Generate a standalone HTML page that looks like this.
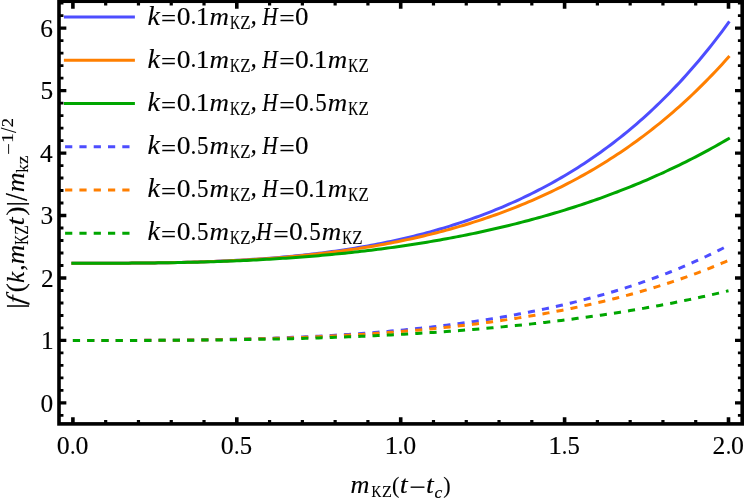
<!DOCTYPE html>
<html><head><meta charset="utf-8"><title>plot</title>
<style>html,body{margin:0;padding:0;background:#fff}svg{display:block;will-change:transform}text{font-family:"Liberation Serif",serif;font-size:24px;fill:#000;stroke:#000;stroke-width:0.12px;stroke-linejoin:round;vector-effect:non-scaling-stroke}.i{font-style:italic}.b{stroke-width:0.2px}</style></head><body>
<svg width="747" height="500" viewBox="0 0 747 500">
<rect x="0" y="0" width="747" height="500" fill="#fff"/>
<path d="M72.90 263.24 L76.18 263.24 L79.46 263.24 L82.73 263.24 L86.01 263.24 L89.29 263.24 L92.57 263.24 L95.85 263.23 L99.12 263.23 L102.40 263.22 L105.68 263.22 L108.96 263.21 L112.24 263.20 L115.51 263.19 L118.79 263.18 L122.07 263.16 L125.35 263.15 L128.63 263.13 L131.90 263.10 L135.18 263.08 L138.46 263.05 L141.74 263.02 L145.02 262.99 L148.29 262.96 L151.57 262.92 L154.85 262.88 L158.13 262.83 L161.41 262.78 L164.68 262.73 L167.96 262.67 L171.24 262.61 L174.52 262.55 L177.80 262.48 L181.07 262.40 L184.35 262.32 L187.63 262.24 L190.91 262.15 L194.19 262.06 L197.46 261.96 L200.74 261.86 L204.02 261.75 L207.30 261.63 L210.58 261.51 L213.85 261.38 L217.13 261.25 L220.41 261.11 L223.69 260.97 L226.97 260.82 L230.24 260.66 L233.52 260.49 L236.80 260.32 L240.08 260.14 L243.36 259.95 L246.63 259.76 L249.91 259.56 L253.19 259.35 L256.47 259.13 L259.75 258.90 L263.02 258.67 L266.30 258.43 L269.58 258.18 L272.86 257.92 L276.14 257.65 L279.41 257.37 L282.69 257.09 L285.97 256.79 L289.25 256.49 L292.53 256.17 L295.80 255.85 L299.08 255.51 L302.36 255.17 L305.64 254.81 L308.92 254.45 L312.19 254.07 L315.47 253.69 L318.75 253.29 L322.03 252.88 L325.31 252.46 L328.58 252.03 L331.86 251.58 L335.14 251.13 L338.42 250.66 L341.70 250.18 L344.97 249.69 L348.25 249.18 L351.53 248.67 L354.81 248.13 L358.09 247.59 L361.36 247.03 L364.64 246.46 L367.92 245.88 L371.20 245.28 L374.48 244.66 L377.75 244.03 L381.03 243.39 L384.31 242.73 L387.59 242.06 L390.87 241.37 L394.14 240.67 L397.42 239.95 L400.70 239.21 L403.98 238.46 L407.26 237.69 L410.53 236.91 L413.81 236.10 L417.09 235.28 L420.37 234.45 L423.65 233.59 L426.92 232.72 L430.20 231.83 L433.48 230.92 L436.76 229.99 L440.04 229.04 L443.31 228.07 L446.59 227.09 L449.87 226.08 L453.15 225.05 L456.43 224.01 L459.70 222.94 L462.98 221.85 L466.26 220.74 L469.54 219.60 L472.82 218.45 L476.09 217.27 L479.37 216.07 L482.65 214.85 L485.93 213.60 L489.21 212.33 L492.48 211.04 L495.76 209.72 L499.04 208.38 L502.32 207.01 L505.60 205.61 L508.87 204.19 L512.15 202.75 L515.43 201.28 L518.71 199.78 L521.99 198.25 L525.26 196.69 L528.54 195.11 L531.82 193.50 L535.10 191.86 L538.38 190.18 L541.65 188.48 L544.93 186.75 L548.21 184.99 L551.49 183.20 L554.77 181.37 L558.04 179.51 L561.32 177.62 L564.60 175.70 L567.88 173.74 L571.16 171.74 L574.43 169.72 L577.71 167.65 L580.99 165.55 L584.27 163.42 L587.55 161.25 L590.82 159.03 L594.10 156.79 L597.38 154.50 L600.66 152.17 L603.94 149.80 L607.21 147.39 L610.49 144.94 L613.77 142.45 L617.05 139.92 L620.33 137.34 L623.60 134.72 L626.88 132.05 L630.16 129.34 L633.44 126.58 L636.72 123.77 L639.99 120.92 L643.27 118.02 L646.55 115.07 L649.83 112.06 L653.11 109.01 L656.38 105.91 L659.66 102.75 L662.94 99.54 L666.22 96.28 L669.50 92.96 L672.77 89.58 L676.05 86.15 L679.33 82.66 L682.61 79.11 L685.89 75.50 L689.16 71.83 L692.44 68.09 L695.72 64.30 L699.00 60.44 L702.28 56.51 L705.55 52.52 L708.83 48.46 L712.11 44.34 L715.39 40.14 L718.67 35.87 L721.94 31.53 L725.22 27.12 L728.50 22.64" fill="none" stroke="#4d4dff" stroke-width="3" stroke-linejoin="round" stroke-linecap="square"/>
<path d="M72.90 263.24 L76.18 263.24 L79.46 263.24 L82.73 263.24 L86.01 263.24 L89.29 263.24 L92.57 263.24 L95.85 263.23 L99.12 263.23 L102.40 263.22 L105.68 263.22 L108.96 263.21 L112.24 263.20 L115.51 263.19 L118.79 263.18 L122.07 263.16 L125.35 263.15 L128.63 263.13 L131.90 263.11 L135.18 263.08 L138.46 263.06 L141.74 263.03 L145.02 263.00 L148.29 262.96 L151.57 262.93 L154.85 262.88 L158.13 262.84 L161.41 262.79 L164.68 262.74 L167.96 262.69 L171.24 262.63 L174.52 262.56 L177.80 262.50 L181.07 262.43 L184.35 262.35 L187.63 262.27 L190.91 262.19 L194.19 262.10 L197.46 262.00 L200.74 261.90 L204.02 261.80 L207.30 261.69 L210.58 261.57 L213.85 261.45 L217.13 261.32 L220.41 261.19 L223.69 261.05 L226.97 260.91 L230.24 260.76 L233.52 260.60 L236.80 260.44 L240.08 260.27 L243.36 260.09 L246.63 259.90 L249.91 259.71 L253.19 259.52 L256.47 259.31 L259.75 259.10 L263.02 258.88 L266.30 258.65 L269.58 258.42 L272.86 258.17 L276.14 257.92 L279.41 257.66 L282.69 257.39 L285.97 257.12 L289.25 256.83 L292.53 256.54 L295.80 256.23 L299.08 255.92 L302.36 255.60 L305.64 255.27 L308.92 254.93 L312.19 254.58 L315.47 254.23 L318.75 253.86 L322.03 253.48 L325.31 253.09 L328.58 252.69 L331.86 252.28 L335.14 251.86 L338.42 251.43 L341.70 250.99 L344.97 250.54 L348.25 250.07 L351.53 249.60 L354.81 249.11 L358.09 248.61 L361.36 248.10 L364.64 247.58 L367.92 247.04 L371.20 246.50 L374.48 245.94 L377.75 245.36 L381.03 244.78 L384.31 244.18 L387.59 243.57 L390.87 242.95 L394.14 242.31 L397.42 241.66 L400.70 240.99 L403.98 240.31 L407.26 239.62 L410.53 238.91 L413.81 238.18 L417.09 237.45 L420.37 236.69 L423.65 235.92 L426.92 235.14 L430.20 234.34 L433.48 233.52 L436.76 232.69 L440.04 231.85 L443.31 230.98 L446.59 230.10 L449.87 229.20 L453.15 228.29 L456.43 227.36 L459.70 226.41 L462.98 225.44 L466.26 224.45 L469.54 223.45 L472.82 222.42 L476.09 221.38 L479.37 220.32 L482.65 219.24 L485.93 218.14 L489.21 217.02 L492.48 215.88 L495.76 214.72 L499.04 213.54 L502.32 212.34 L505.60 211.12 L508.87 209.87 L512.15 208.61 L515.43 207.32 L518.71 206.01 L521.99 204.67 L525.26 203.32 L528.54 201.94 L531.82 200.54 L535.10 199.11 L538.38 197.66 L541.65 196.18 L544.93 194.68 L548.21 193.15 L551.49 191.60 L554.77 190.02 L558.04 188.42 L561.32 186.79 L564.60 185.13 L567.88 183.44 L571.16 181.73 L574.43 179.99 L577.71 178.22 L580.99 176.42 L584.27 174.59 L587.55 172.73 L590.82 170.84 L594.10 168.92 L597.38 166.97 L600.66 164.98 L603.94 162.97 L607.21 160.92 L610.49 158.84 L613.77 156.72 L617.05 154.57 L620.33 152.39 L623.60 150.17 L626.88 147.92 L630.16 145.63 L633.44 143.30 L636.72 140.94 L639.99 138.54 L643.27 136.10 L646.55 133.62 L649.83 131.10 L653.11 128.54 L656.38 125.94 L659.66 123.30 L662.94 120.62 L666.22 117.89 L669.50 115.13 L672.77 112.31 L676.05 109.46 L679.33 106.56 L682.61 103.61 L685.89 100.61 L689.16 97.57 L692.44 94.48 L695.72 91.35 L699.00 88.16 L702.28 84.92 L705.55 81.63 L708.83 78.29 L712.11 74.90 L715.39 71.45 L718.67 67.95 L721.94 64.39 L725.22 60.78 L728.50 57.11" fill="none" stroke="#ff7f00" stroke-width="3" stroke-linejoin="round" stroke-linecap="square"/>
<path d="M72.90 263.24 L76.18 263.24 L79.46 263.24 L82.73 263.24 L86.01 263.24 L89.29 263.24 L92.57 263.24 L95.85 263.23 L99.12 263.23 L102.40 263.22 L105.68 263.22 L108.96 263.21 L112.24 263.20 L115.51 263.19 L118.79 263.18 L122.07 263.17 L125.35 263.15 L128.63 263.13 L131.90 263.12 L135.18 263.09 L138.46 263.07 L141.74 263.04 L145.02 263.02 L148.29 262.98 L151.57 262.95 L154.85 262.91 L158.13 262.87 L161.41 262.83 L164.68 262.79 L167.96 262.74 L171.24 262.68 L174.52 262.63 L177.80 262.57 L181.07 262.51 L184.35 262.44 L187.63 262.37 L190.91 262.30 L194.19 262.22 L197.46 262.14 L200.74 262.05 L204.02 261.96 L207.30 261.87 L210.58 261.77 L213.85 261.67 L217.13 261.56 L220.41 261.45 L223.69 261.34 L226.97 261.22 L230.24 261.09 L233.52 260.96 L236.80 260.82 L240.08 260.68 L243.36 260.54 L246.63 260.39 L249.91 260.23 L253.19 260.07 L256.47 259.91 L259.75 259.73 L263.02 259.56 L266.30 259.37 L269.58 259.19 L272.86 258.99 L276.14 258.79 L279.41 258.59 L282.69 258.37 L285.97 258.16 L289.25 257.93 L292.53 257.70 L295.80 257.47 L299.08 257.23 L302.36 256.98 L305.64 256.72 L308.92 256.46 L312.19 256.19 L315.47 255.92 L318.75 255.64 L322.03 255.35 L325.31 255.06 L328.58 254.75 L331.86 254.45 L335.14 254.13 L338.42 253.81 L341.70 253.48 L344.97 253.14 L348.25 252.80 L351.53 252.45 L354.81 252.09 L358.09 251.72 L361.36 251.35 L364.64 250.97 L367.92 250.58 L371.20 250.18 L374.48 249.78 L377.75 249.36 L381.03 248.94 L384.31 248.51 L387.59 248.08 L390.87 247.63 L394.14 247.18 L397.42 246.72 L400.70 246.25 L403.98 245.77 L407.26 245.28 L410.53 244.79 L413.81 244.28 L417.09 243.77 L420.37 243.25 L423.65 242.71 L426.92 242.17 L430.20 241.62 L433.48 241.07 L436.76 240.50 L440.04 239.92 L443.31 239.33 L446.59 238.74 L449.87 238.13 L453.15 237.52 L456.43 236.89 L459.70 236.25 L462.98 235.61 L466.26 234.95 L469.54 234.29 L472.82 233.61 L476.09 232.92 L479.37 232.23 L482.65 231.52 L485.93 230.80 L489.21 230.07 L492.48 229.33 L495.76 228.58 L499.04 227.82 L502.32 227.05 L505.60 226.26 L508.87 225.47 L512.15 224.66 L515.43 223.84 L518.71 223.01 L521.99 222.17 L525.26 221.31 L528.54 220.44 L531.82 219.56 L535.10 218.67 L538.38 217.77 L541.65 216.85 L544.93 215.92 L548.21 214.98 L551.49 214.03 L554.77 213.06 L558.04 212.08 L561.32 211.08 L564.60 210.07 L567.88 209.05 L571.16 208.01 L574.43 206.96 L577.71 205.90 L580.99 204.82 L584.27 203.73 L587.55 202.62 L590.82 201.50 L594.10 200.36 L597.38 199.21 L600.66 198.05 L603.94 196.86 L607.21 195.67 L610.49 194.45 L613.77 193.22 L617.05 191.98 L620.33 190.72 L623.60 189.44 L626.88 188.15 L630.16 186.83 L633.44 185.51 L636.72 184.16 L639.99 182.80 L643.27 181.42 L646.55 180.02 L649.83 178.61 L653.11 177.17 L656.38 175.72 L659.66 174.25 L662.94 172.76 L666.22 171.26 L669.50 169.73 L672.77 168.18 L676.05 166.62 L679.33 165.03 L682.61 163.43 L685.89 161.80 L689.16 160.15 L692.44 158.49 L695.72 156.80 L699.00 155.09 L702.28 153.36 L705.55 151.60 L708.83 149.83 L712.11 148.03 L715.39 146.21 L718.67 144.37 L721.94 142.50 L725.22 140.62 L728.50 138.70" fill="none" stroke="#00a600" stroke-width="3" stroke-linejoin="round" stroke-linecap="square"/>
<path d="M72.90 340.47 L76.18 340.47 L79.46 340.47 L82.73 340.47 L86.01 340.47 L89.29 340.47 L92.57 340.47 L95.85 340.47 L99.12 340.46 L102.40 340.46 L105.68 340.46 L108.96 340.46 L112.24 340.45 L115.51 340.45 L118.79 340.44 L122.07 340.43 L125.35 340.43 L128.63 340.42 L131.90 340.41 L135.18 340.40 L138.46 340.39 L141.74 340.37 L145.02 340.36 L148.29 340.34 L151.57 340.33 L154.85 340.31 L158.13 340.29 L161.41 340.27 L164.68 340.24 L167.96 340.22 L171.24 340.19 L174.52 340.16 L177.80 340.13 L181.07 340.10 L184.35 340.06 L187.63 340.03 L190.91 339.99 L194.19 339.95 L197.46 339.90 L200.74 339.86 L204.02 339.81 L207.30 339.76 L210.58 339.70 L213.85 339.65 L217.13 339.59 L220.41 339.53 L223.69 339.46 L226.97 339.40 L230.24 339.33 L233.52 339.25 L236.80 339.18 L240.08 339.10 L243.36 339.02 L246.63 338.93 L249.91 338.85 L253.19 338.75 L256.47 338.66 L259.75 338.56 L263.02 338.46 L266.30 338.35 L269.58 338.24 L272.86 338.13 L276.14 338.02 L279.41 337.89 L282.69 337.77 L285.97 337.64 L289.25 337.51 L292.53 337.37 L295.80 337.23 L299.08 337.09 L302.36 336.94 L305.64 336.79 L308.92 336.63 L312.19 336.47 L315.47 336.30 L318.75 336.13 L322.03 335.96 L325.31 335.78 L328.58 335.59 L331.86 335.40 L335.14 335.21 L338.42 335.01 L341.70 334.81 L344.97 334.60 L348.25 334.38 L351.53 334.16 L354.81 333.94 L358.09 333.71 L361.36 333.47 L364.64 333.23 L367.92 332.98 L371.20 332.73 L374.48 332.47 L377.75 332.21 L381.03 331.94 L384.31 331.66 L387.59 331.38 L390.87 331.09 L394.14 330.80 L397.42 330.50 L400.70 330.19 L403.98 329.88 L407.26 329.56 L410.53 329.23 L413.81 328.90 L417.09 328.55 L420.37 328.21 L423.65 327.85 L426.92 327.49 L430.20 327.12 L433.48 326.75 L436.76 326.37 L440.04 325.98 L443.31 325.58 L446.59 325.17 L449.87 324.76 L453.15 324.34 L456.43 323.91 L459.70 323.47 L462.98 323.03 L466.26 322.57 L469.54 322.11 L472.82 321.64 L476.09 321.16 L479.37 320.68 L482.65 320.18 L485.93 319.67 L489.21 319.16 L492.48 318.64 L495.76 318.10 L499.04 317.56 L502.32 317.01 L505.60 316.45 L508.87 315.88 L512.15 315.30 L515.43 314.70 L518.71 314.10 L521.99 313.49 L525.26 312.87 L528.54 312.23 L531.82 311.59 L535.10 310.93 L538.38 310.27 L541.65 309.59 L544.93 308.90 L548.21 308.20 L551.49 307.49 L554.77 306.76 L558.04 306.02 L561.32 305.28 L564.60 304.51 L567.88 303.74 L571.16 302.95 L574.43 302.15 L577.71 301.34 L580.99 300.51 L584.27 299.67 L587.55 298.81 L590.82 297.95 L594.10 297.06 L597.38 296.17 L600.66 295.25 L603.94 294.33 L607.21 293.38 L610.49 292.43 L613.77 291.45 L617.05 290.46 L620.33 289.46 L623.60 288.43 L626.88 287.40 L630.16 286.34 L633.44 285.27 L636.72 284.18 L639.99 283.07 L643.27 281.94 L646.55 280.80 L649.83 279.64 L653.11 278.46 L656.38 277.26 L659.66 276.04 L662.94 274.80 L666.22 273.54 L669.50 272.26 L672.77 270.96 L676.05 269.64 L679.33 268.29 L682.61 266.93 L685.89 265.54 L689.16 264.13 L692.44 262.70 L695.72 261.24 L699.00 259.77 L702.28 258.26 L705.55 256.74 L708.83 255.18 L712.11 253.61 L715.39 252.01 L718.67 250.38 L721.94 248.72 L725.22 247.04 L728.50 245.33" fill="none" stroke="#4d4dff" stroke-width="3" stroke-linejoin="round" stroke-dasharray="7.135 7.135"/>
<path d="M72.90 340.47 L76.18 340.47 L79.46 340.47 L82.73 340.47 L86.01 340.47 L89.29 340.47 L92.57 340.47 L95.85 340.47 L99.12 340.47 L102.40 340.46 L105.68 340.46 L108.96 340.46 L112.24 340.45 L115.51 340.45 L118.79 340.44 L122.07 340.44 L125.35 340.43 L128.63 340.42 L131.90 340.42 L135.18 340.41 L138.46 340.40 L141.74 340.38 L145.02 340.37 L148.29 340.36 L151.57 340.34 L154.85 340.33 L158.13 340.31 L161.41 340.29 L164.68 340.27 L167.96 340.25 L171.24 340.22 L174.52 340.20 L177.80 340.17 L181.07 340.14 L184.35 340.11 L187.63 340.08 L190.91 340.04 L194.19 340.01 L197.46 339.97 L200.74 339.93 L204.02 339.89 L207.30 339.84 L210.58 339.79 L213.85 339.75 L217.13 339.69 L220.41 339.64 L223.69 339.58 L226.97 339.53 L230.24 339.47 L233.52 339.40 L236.80 339.34 L240.08 339.27 L243.36 339.20 L246.63 339.12 L249.91 339.05 L253.19 338.97 L256.47 338.88 L259.75 338.80 L263.02 338.71 L266.30 338.62 L269.58 338.52 L272.86 338.43 L276.14 338.32 L279.41 338.22 L282.69 338.11 L285.97 338.00 L289.25 337.89 L292.53 337.77 L295.80 337.65 L299.08 337.52 L302.36 337.40 L305.64 337.26 L308.92 337.13 L312.19 336.99 L315.47 336.85 L318.75 336.70 L322.03 336.55 L325.31 336.39 L328.58 336.23 L331.86 336.07 L335.14 335.90 L338.42 335.73 L341.70 335.56 L344.97 335.37 L348.25 335.19 L351.53 335.00 L354.81 334.81 L358.09 334.61 L361.36 334.41 L364.64 334.20 L367.92 333.99 L371.20 333.77 L374.48 333.55 L377.75 333.32 L381.03 333.09 L384.31 332.85 L387.59 332.61 L390.87 332.36 L394.14 332.11 L397.42 331.86 L400.70 331.59 L403.98 331.32 L407.26 331.05 L410.53 330.77 L413.81 330.48 L417.09 330.19 L420.37 329.90 L423.65 329.59 L426.92 329.29 L430.20 328.97 L433.48 328.65 L436.76 328.32 L440.04 327.99 L443.31 327.65 L446.59 327.30 L449.87 326.95 L453.15 326.59 L456.43 326.23 L459.70 325.85 L462.98 325.48 L466.26 325.09 L469.54 324.70 L472.82 324.30 L476.09 323.89 L479.37 323.47 L482.65 323.05 L485.93 322.62 L489.21 322.18 L492.48 321.74 L495.76 321.28 L499.04 320.82 L502.32 320.35 L505.60 319.88 L508.87 319.39 L512.15 318.90 L515.43 318.40 L518.71 317.88 L521.99 317.37 L525.26 316.84 L528.54 316.30 L531.82 315.75 L535.10 315.20 L538.38 314.63 L541.65 314.06 L544.93 313.48 L548.21 312.88 L551.49 312.28 L554.77 311.67 L558.04 311.04 L561.32 310.41 L564.60 309.77 L567.88 309.11 L571.16 308.45 L574.43 307.77 L577.71 307.09 L580.99 306.39 L584.27 305.68 L587.55 304.96 L590.82 304.23 L594.10 303.49 L597.38 302.73 L600.66 301.96 L603.94 301.18 L607.21 300.39 L610.49 299.59 L613.77 298.77 L617.05 297.94 L620.33 297.09 L623.60 296.24 L626.88 295.37 L630.16 294.48 L633.44 293.58 L636.72 292.67 L639.99 291.74 L643.27 290.80 L646.55 289.85 L649.83 288.88 L653.11 287.89 L656.38 286.89 L659.66 285.87 L662.94 284.84 L666.22 283.79 L669.50 282.72 L672.77 281.64 L676.05 280.54 L679.33 279.42 L682.61 278.29 L685.89 277.14 L689.16 275.97 L692.44 274.78 L695.72 273.57 L699.00 272.35 L702.28 271.10 L705.55 269.84 L708.83 268.56 L712.11 267.25 L715.39 265.93 L718.67 264.59 L721.94 263.22 L725.22 261.84 L728.50 260.43" fill="none" stroke="#ff7f00" stroke-width="3" stroke-linejoin="round" stroke-dasharray="7.135 7.135"/>
<path d="M72.90 340.47 L76.18 340.47 L79.46 340.47 L82.73 340.47 L86.01 340.47 L89.29 340.47 L92.57 340.47 L95.85 340.47 L99.12 340.47 L102.40 340.47 L105.68 340.46 L108.96 340.46 L112.24 340.46 L115.51 340.46 L118.79 340.45 L122.07 340.45 L125.35 340.45 L128.63 340.44 L131.90 340.44 L135.18 340.43 L138.46 340.42 L141.74 340.42 L145.02 340.41 L148.29 340.40 L151.57 340.39 L154.85 340.38 L158.13 340.37 L161.41 340.36 L164.68 340.34 L167.96 340.33 L171.24 340.31 L174.52 340.30 L177.80 340.28 L181.07 340.26 L184.35 340.24 L187.63 340.22 L190.91 340.19 L194.19 340.17 L197.46 340.14 L200.74 340.12 L204.02 340.09 L207.30 340.06 L210.58 340.03 L213.85 339.99 L217.13 339.96 L220.41 339.92 L223.69 339.89 L226.97 339.85 L230.24 339.81 L233.52 339.76 L236.80 339.72 L240.08 339.67 L243.36 339.62 L246.63 339.57 L249.91 339.52 L253.19 339.46 L256.47 339.41 L259.75 339.35 L263.02 339.29 L266.30 339.23 L269.58 339.16 L272.86 339.09 L276.14 339.02 L279.41 338.95 L282.69 338.88 L285.97 338.80 L289.25 338.72 L292.53 338.64 L295.80 338.56 L299.08 338.47 L302.36 338.38 L305.64 338.29 L308.92 338.20 L312.19 338.10 L315.47 338.00 L318.75 337.90 L322.03 337.80 L325.31 337.69 L328.58 337.58 L331.86 337.47 L335.14 337.35 L338.42 337.23 L341.70 337.11 L344.97 336.99 L348.25 336.86 L351.53 336.73 L354.81 336.60 L358.09 336.46 L361.36 336.32 L364.64 336.18 L367.92 336.03 L371.20 335.88 L374.48 335.73 L377.75 335.58 L381.03 335.42 L384.31 335.26 L387.59 335.09 L390.87 334.92 L394.14 334.75 L397.42 334.57 L400.70 334.39 L403.98 334.21 L407.26 334.02 L410.53 333.83 L413.81 333.64 L417.09 333.44 L420.37 333.24 L423.65 333.03 L426.92 332.83 L430.20 332.61 L433.48 332.40 L436.76 332.18 L440.04 331.95 L443.31 331.72 L446.59 331.49 L449.87 331.25 L453.15 331.01 L456.43 330.77 L459.70 330.52 L462.98 330.26 L466.26 330.00 L469.54 329.74 L472.82 329.48 L476.09 329.21 L479.37 328.93 L482.65 328.65 L485.93 328.37 L489.21 328.08 L492.48 327.78 L495.76 327.48 L499.04 327.18 L502.32 326.87 L505.60 326.56 L508.87 326.24 L512.15 325.92 L515.43 325.59 L518.71 325.26 L521.99 324.92 L525.26 324.58 L528.54 324.23 L531.82 323.88 L535.10 323.52 L538.38 323.16 L541.65 322.79 L544.93 322.41 L548.21 322.03 L551.49 321.65 L554.77 321.26 L558.04 320.86 L561.32 320.46 L564.60 320.05 L567.88 319.64 L571.16 319.22 L574.43 318.79 L577.71 318.36 L580.99 317.92 L584.27 317.48 L587.55 317.03 L590.82 316.57 L594.10 316.11 L597.38 315.64 L600.66 315.17 L603.94 314.68 L607.21 314.19 L610.49 313.70 L613.77 313.20 L617.05 312.69 L620.33 312.17 L623.60 311.65 L626.88 311.12 L630.16 310.58 L633.44 310.04 L636.72 309.49 L639.99 308.93 L643.27 308.37 L646.55 307.79 L649.83 307.21 L653.11 306.62 L656.38 306.03 L659.66 305.42 L662.94 304.81 L666.22 304.19 L669.50 303.56 L672.77 302.92 L676.05 302.28 L679.33 301.63 L682.61 300.97 L685.89 300.29 L689.16 299.62 L692.44 298.93 L695.72 298.23 L699.00 297.53 L702.28 296.81 L705.55 296.09 L708.83 295.35 L712.11 294.61 L715.39 293.86 L718.67 293.10 L721.94 292.33 L725.22 291.54 L728.50 290.75" fill="none" stroke="#00a600" stroke-width="3" stroke-linejoin="round" stroke-dasharray="7.135 7.135"/>
<rect x="59" y="1.25" width="683.2" height="422.65" fill="none" stroke="#000" stroke-width="3.6"/>
<g stroke="#000" fill="none"><path d="M72.90 423.90 V417.15 M72.90 1.25 V8.70" stroke-width="3.6"/><path d="M105.68 423.90 V420.10 M105.68 1.25 V5.60" stroke-width="3.2"/><path d="M138.46 423.90 V420.10 M138.46 1.25 V5.60" stroke-width="3.2"/><path d="M171.24 423.90 V420.10 M171.24 1.25 V5.60" stroke-width="3.2"/><path d="M204.02 423.90 V420.10 M204.02 1.25 V5.60" stroke-width="3.2"/><path d="M236.80 423.90 V417.15 M236.80 1.25 V8.70" stroke-width="3.6"/><path d="M269.58 423.90 V420.10 M269.58 1.25 V5.60" stroke-width="3.2"/><path d="M302.36 423.90 V420.10 M302.36 1.25 V5.60" stroke-width="3.2"/><path d="M335.14 423.90 V420.10 M335.14 1.25 V5.60" stroke-width="3.2"/><path d="M367.92 423.90 V420.10 M367.92 1.25 V5.60" stroke-width="3.2"/><path d="M400.70 423.90 V417.15 M400.70 1.25 V8.70" stroke-width="3.6"/><path d="M433.48 423.90 V420.10 M433.48 1.25 V5.60" stroke-width="3.2"/><path d="M466.26 423.90 V420.10 M466.26 1.25 V5.60" stroke-width="3.2"/><path d="M499.04 423.90 V420.10 M499.04 1.25 V5.60" stroke-width="3.2"/><path d="M531.82 423.90 V420.10 M531.82 1.25 V5.60" stroke-width="3.2"/><path d="M564.60 423.90 V417.15 M564.60 1.25 V8.70" stroke-width="3.6"/><path d="M597.38 423.90 V420.10 M597.38 1.25 V5.60" stroke-width="3.2"/><path d="M630.16 423.90 V420.10 M630.16 1.25 V5.60" stroke-width="3.2"/><path d="M662.94 423.90 V420.10 M662.94 1.25 V5.60" stroke-width="3.2"/><path d="M695.72 423.90 V420.10 M695.72 1.25 V5.60" stroke-width="3.2"/><path d="M728.50 423.90 V417.15 M728.50 1.25 V8.70" stroke-width="3.6"/><path d="M59.00 415.45 H63.45 M742.20 415.45 H737.90" stroke-width="2.8"/><path d="M59.00 402.95 H66.35 M742.20 402.95 H735.00" stroke-width="3.3"/><path d="M59.00 390.45 H63.45 M742.20 390.45 H737.90" stroke-width="2.8"/><path d="M59.00 377.96 H63.45 M742.20 377.96 H737.90" stroke-width="2.8"/><path d="M59.00 365.46 H63.45 M742.20 365.46 H737.90" stroke-width="2.8"/><path d="M59.00 352.97 H63.45 M742.20 352.97 H737.90" stroke-width="2.8"/><path d="M59.00 340.47 H66.35 M742.20 340.47 H735.00" stroke-width="3.3"/><path d="M59.00 327.97 H63.45 M742.20 327.97 H737.90" stroke-width="2.8"/><path d="M59.00 315.48 H63.45 M742.20 315.48 H737.90" stroke-width="2.8"/><path d="M59.00 302.98 H63.45 M742.20 302.98 H737.90" stroke-width="2.8"/><path d="M59.00 290.49 H63.45 M742.20 290.49 H737.90" stroke-width="2.8"/><path d="M59.00 277.99 H66.35 M742.20 277.99 H735.00" stroke-width="3.3"/><path d="M59.00 265.49 H63.45 M742.20 265.49 H737.90" stroke-width="2.8"/><path d="M59.00 253.00 H63.45 M742.20 253.00 H737.90" stroke-width="2.8"/><path d="M59.00 240.50 H63.45 M742.20 240.50 H737.90" stroke-width="2.8"/><path d="M59.00 228.01 H63.45 M742.20 228.01 H737.90" stroke-width="2.8"/><path d="M59.00 215.51 H66.35 M742.20 215.51 H735.00" stroke-width="3.3"/><path d="M59.00 203.01 H63.45 M742.20 203.01 H737.90" stroke-width="2.8"/><path d="M59.00 190.52 H63.45 M742.20 190.52 H737.90" stroke-width="2.8"/><path d="M59.00 178.02 H63.45 M742.20 178.02 H737.90" stroke-width="2.8"/><path d="M59.00 165.53 H63.45 M742.20 165.53 H737.90" stroke-width="2.8"/><path d="M59.00 153.03 H66.35 M742.20 153.03 H735.00" stroke-width="3.3"/><path d="M59.00 140.53 H63.45 M742.20 140.53 H737.90" stroke-width="2.8"/><path d="M59.00 128.04 H63.45 M742.20 128.04 H737.90" stroke-width="2.8"/><path d="M59.00 115.54 H63.45 M742.20 115.54 H737.90" stroke-width="2.8"/><path d="M59.00 103.05 H63.45 M742.20 103.05 H737.90" stroke-width="2.8"/><path d="M59.00 90.55 H66.35 M742.20 90.55 H735.00" stroke-width="3.3"/><path d="M59.00 78.05 H63.45 M742.20 78.05 H737.90" stroke-width="2.8"/><path d="M59.00 65.56 H63.45 M742.20 65.56 H737.90" stroke-width="2.8"/><path d="M59.00 53.06 H63.45 M742.20 53.06 H737.90" stroke-width="2.8"/><path d="M59.00 40.57 H63.45 M742.20 40.57 H737.90" stroke-width="2.8"/><path d="M59.00 28.07 H66.35 M742.20 28.07 H735.00" stroke-width="3.3"/><path d="M59.00 15.57 H63.45 M742.20 15.57 H737.90" stroke-width="2.8"/><path d="M59.00 3.08 H63.45 M742.20 3.08 H737.90" stroke-width="2.8"/></g>
<path d="M63.9 17.10 H134.9" stroke="#4d4dff" stroke-width="3" fill="none"/>
<path d="M63.9 60.32 H134.9" stroke="#ff7f00" stroke-width="3" fill="none"/>
<path d="M63.9 103.54 H134.9" stroke="#00a600" stroke-width="3" fill="none"/>
<path d="M65.1 146.76 H134.9" stroke="#4d4dff" stroke-width="3" stroke-dasharray="7.2 7.1" fill="none"/>
<path d="M65.1 189.98 H134.9" stroke="#ff7f00" stroke-width="3" stroke-dasharray="7.2 7.1" fill="none"/>
<path d="M65.1 233.20 H134.9" stroke="#00a600" stroke-width="3" stroke-dasharray="7.2 7.1" fill="none"/>
<text class="i" transform="matrix(1.1617 0 0 1.1013 147.46 24.50)">k</text>
<text class="b" transform="matrix(1.1175 0 0 1.0300 161.12 27.30)">=</text>
<text transform="matrix(1.1483 0 0 1.0363 176.81 24.50)">0</text>
<text transform="matrix(0.9803 0 0 1.0332 190.41 24.24)">.</text>
<text transform="matrix(1.1457 0 0 1.0408 195.64 24.50)">1</text>
<text class="i" transform="matrix(1.1244 0 0 1.0735 209.58 24.50)">m</text>
<text transform="matrix(0.5782 0 0 0.7598 230.06 28.60)">K</text>
<text transform="matrix(0.7033 0 0 0.7598 240.25 28.60)">Z</text>
<text class="i" transform="matrix(1.0511 0 0 1.1161 250.42 23.62)">,</text>
<text class="i" transform="matrix(0.8882 0 0 1.0780 262.29 24.50)">H</text>
<text class="b" transform="matrix(1.1443 0 0 1.0300 279.29 27.30)">=</text>
<text transform="matrix(1.1286 0 0 1.0363 295.03 24.50)">0</text>
<text class="i" transform="matrix(1.1617 0 0 1.1013 147.46 67.65)">k</text>
<text class="b" transform="matrix(1.1175 0 0 1.0300 161.12 70.45)">=</text>
<text transform="matrix(1.1483 0 0 1.0363 176.81 67.65)">0</text>
<text transform="matrix(0.9803 0 0 1.0332 190.41 67.39)">.</text>
<text transform="matrix(1.1457 0 0 1.0408 195.64 67.65)">1</text>
<text class="i" transform="matrix(1.1244 0 0 1.0735 209.58 67.65)">m</text>
<text transform="matrix(0.5782 0 0 0.7598 230.06 71.75)">K</text>
<text transform="matrix(0.7033 0 0 0.7598 240.25 71.75)">Z</text>
<text class="i" transform="matrix(1.0511 0 0 1.1161 250.42 66.77)">,</text>
<text class="i" transform="matrix(0.8882 0 0 1.0780 262.29 67.65)">H</text>
<text class="b" transform="matrix(1.1443 0 0 1.0300 279.29 70.45)">=</text>
<text transform="matrix(1.1483 0 0 1.0363 295.01 67.65)">0</text>
<text transform="matrix(0.9803 0 0 1.0332 308.61 67.39)">.</text>
<text transform="matrix(1.1457 0 0 1.0408 313.84 67.65)">1</text>
<text class="i" transform="matrix(1.1244 0 0 1.0735 327.78 67.65)">m</text>
<text transform="matrix(0.5782 0 0 0.7598 348.26 71.75)">K</text>
<text transform="matrix(0.7033 0 0 0.7598 358.45 71.75)">Z</text>
<text class="i" transform="matrix(1.1617 0 0 1.1013 147.46 110.80)">k</text>
<text class="b" transform="matrix(1.1175 0 0 1.0300 161.12 113.60)">=</text>
<text transform="matrix(1.1483 0 0 1.0363 176.81 110.80)">0</text>
<text transform="matrix(0.9803 0 0 1.0332 190.41 110.54)">.</text>
<text transform="matrix(1.1457 0 0 1.0408 195.64 110.80)">1</text>
<text class="i" transform="matrix(1.1244 0 0 1.0735 209.58 110.80)">m</text>
<text transform="matrix(0.5782 0 0 0.7598 230.06 114.90)">K</text>
<text transform="matrix(0.7033 0 0 0.7598 240.25 114.90)">Z</text>
<text class="i" transform="matrix(1.0511 0 0 1.1161 250.42 109.92)">,</text>
<text class="i" transform="matrix(0.8882 0 0 1.0780 262.29 110.80)">H</text>
<text class="b" transform="matrix(1.1443 0 0 1.0300 279.29 113.60)">=</text>
<text transform="matrix(1.1483 0 0 1.0363 295.01 110.80)">0</text>
<text transform="matrix(0.9803 0 0 1.0332 308.61 110.54)">.</text>
<text transform="matrix(0.9599 0 0 1.0398 315.32 110.80)">5</text>
<text class="i" transform="matrix(1.1244 0 0 1.0735 327.78 110.80)">m</text>
<text transform="matrix(0.5782 0 0 0.7598 348.26 114.90)">K</text>
<text transform="matrix(0.7033 0 0 0.7598 358.45 114.90)">Z</text>
<text class="i" transform="matrix(1.1617 0 0 1.1013 147.46 153.95)">k</text>
<text class="b" transform="matrix(1.1175 0 0 1.0300 161.12 156.75)">=</text>
<text transform="matrix(1.1483 0 0 1.0363 176.81 153.95)">0</text>
<text transform="matrix(0.9803 0 0 1.0332 190.41 153.69)">.</text>
<text transform="matrix(0.9599 0 0 1.0398 197.12 153.95)">5</text>
<text class="i" transform="matrix(1.1244 0 0 1.0735 209.58 153.95)">m</text>
<text transform="matrix(0.5782 0 0 0.7598 230.06 158.05)">K</text>
<text transform="matrix(0.7033 0 0 0.7598 240.25 158.05)">Z</text>
<text class="i" transform="matrix(1.0511 0 0 1.1161 250.42 153.07)">,</text>
<text class="i" transform="matrix(0.8882 0 0 1.0780 262.29 153.95)">H</text>
<text class="b" transform="matrix(1.1443 0 0 1.0300 279.29 156.75)">=</text>
<text transform="matrix(1.1286 0 0 1.0363 295.03 153.95)">0</text>
<text class="i" transform="matrix(1.1617 0 0 1.1013 147.46 197.10)">k</text>
<text class="b" transform="matrix(1.1175 0 0 1.0300 161.12 199.90)">=</text>
<text transform="matrix(1.1483 0 0 1.0363 176.81 197.10)">0</text>
<text transform="matrix(0.9803 0 0 1.0332 190.41 196.84)">.</text>
<text transform="matrix(0.9599 0 0 1.0398 197.12 197.10)">5</text>
<text class="i" transform="matrix(1.1244 0 0 1.0735 209.58 197.10)">m</text>
<text transform="matrix(0.5782 0 0 0.7598 230.06 201.20)">K</text>
<text transform="matrix(0.7033 0 0 0.7598 240.25 201.20)">Z</text>
<text class="i" transform="matrix(1.0511 0 0 1.1161 250.42 196.22)">,</text>
<text class="i" transform="matrix(0.8882 0 0 1.0780 262.29 197.10)">H</text>
<text class="b" transform="matrix(1.1443 0 0 1.0300 279.29 199.90)">=</text>
<text transform="matrix(1.1483 0 0 1.0363 295.01 197.10)">0</text>
<text transform="matrix(0.9803 0 0 1.0332 308.61 196.84)">.</text>
<text transform="matrix(1.1457 0 0 1.0408 313.84 197.10)">1</text>
<text class="i" transform="matrix(1.1244 0 0 1.0735 327.78 197.10)">m</text>
<text transform="matrix(0.5782 0 0 0.7598 348.26 201.20)">K</text>
<text transform="matrix(0.7033 0 0 0.7598 358.45 201.20)">Z</text>
<text class="i" transform="matrix(1.1617 0 0 1.1013 147.46 240.25)">k</text>
<text class="b" transform="matrix(1.1175 0 0 1.0300 161.12 243.05)">=</text>
<text transform="matrix(1.1483 0 0 1.0363 176.81 240.25)">0</text>
<text transform="matrix(0.9803 0 0 1.0332 190.41 239.99)">.</text>
<text transform="matrix(0.9599 0 0 1.0398 197.12 240.25)">5</text>
<text class="i" transform="matrix(1.1244 0 0 1.0735 209.58 240.25)">m</text>
<text transform="matrix(0.5782 0 0 0.7598 230.06 244.35)">K</text>
<text transform="matrix(0.7033 0 0 0.7598 240.25 244.35)">Z</text>
<text class="i" transform="matrix(1.0511 0 0 1.1161 250.42 239.37)">,</text>
<text class="i" transform="matrix(0.8882 0 0 1.0780 256.19 240.25)">H</text>
<text class="b" transform="matrix(1.1443 0 0 1.0300 273.19 243.05)">=</text>
<text transform="matrix(1.1483 0 0 1.0363 288.91 240.25)">0</text>
<text transform="matrix(0.9803 0 0 1.0332 302.51 239.99)">.</text>
<text transform="matrix(0.9599 0 0 1.0398 309.22 240.25)">5</text>
<text class="i" transform="matrix(1.1244 0 0 1.0735 321.68 240.25)">m</text>
<text transform="matrix(0.5782 0 0 0.7598 342.16 244.35)">K</text>
<text transform="matrix(0.7033 0 0 0.7598 352.35 244.35)">Z</text>
<text transform="matrix(1.0794 0 0 1.0425 56.77 454.00)">0</text>
<text transform="matrix(0.9274 0 0 1.0508 70.04 453.78)">.</text>
<text transform="matrix(1.0794 0 0 1.0425 75.52 454.00)">0</text>
<text transform="matrix(1.0794 0 0 1.0425 220.67 454.00)">0</text>
<text transform="matrix(0.9274 0 0 1.0508 233.94 453.78)">.</text>
<text transform="matrix(1.0323 0 0 1.0589 239.82 454.00)">5</text>
<text transform="matrix(1.1457 0 0 1.0503 384.44 454.00)">1</text>
<text transform="matrix(0.9274 0 0 1.0508 397.84 453.78)">.</text>
<text transform="matrix(1.0794 0 0 1.0425 403.32 454.00)">0</text>
<text transform="matrix(1.1457 0 0 1.0503 548.34 454.00)">1</text>
<text transform="matrix(0.9274 0 0 1.0508 561.74 453.78)">.</text>
<text transform="matrix(1.0323 0 0 1.0589 567.62 454.00)">5</text>
<text transform="matrix(1.0685 0 0 1.0472 712.58 454.00)">2</text>
<text transform="matrix(0.9274 0 0 1.0508 725.64 453.78)">.</text>
<text transform="matrix(1.0794 0 0 1.0425 731.12 454.00)">0</text>
<text transform="matrix(1.0582 0 0 1.0425 40.51 411.55)">0</text>
<text transform="matrix(1.0558 0 0 1.0503 41.09 349.07)">1</text>
<text transform="matrix(1.0575 0 0 1.0472 40.95 286.59)">2</text>
<text transform="matrix(1.0579 0 0 1.0472 40.54 224.11)">3</text>
<text transform="matrix(1.0592 0 0 1.0534 39.93 161.63)">4</text>
<text transform="matrix(1.0576 0 0 1.0589 40.54 99.15)">5</text>
<text transform="matrix(1.0583 0 0 1.0472 40.30 36.67)">6</text>
<text class="i" transform="matrix(1.0921 0 0 1.0293 350.41 492.80)">m</text>
<text transform="matrix(0.5660 0 0 0.7369 371.47 497.34)">K</text>
<text transform="matrix(0.6787 0 0 0.7369 381.88 497.34)">Z</text>
<text transform="matrix(0.9215 0 0 0.9595 392.09 492.94)">(</text>
<text class="i" transform="matrix(1.1947 0 0 1.0095 399.70 492.80)">t</text>
<text class="b" transform="matrix(1.2070 0 0 1.0000 409.52 494.70)">&#8722;</text>
<text class="i" transform="matrix(1.1618 0 0 1.0095 425.93 492.80)">t</text>
<text class="i" transform="matrix(0.7332 0 0 0.6653 434.62 497.68)">c</text>
<text transform="matrix(0.9215 0 0 0.9595 443.15 492.94)">)</text>
<text transform="matrix(0 -1.2200 1.0500 0 24.00 309.08)">|</text>
<text class="i" transform="matrix(0 -1.1 1.06 0.16 24.00 304.60)">f</text>
<text transform="matrix(0 -1.1648 1.0593 0 23.60 292.47)">(</text>
<text class="i" transform="matrix(0 -1.0453 1.0713 0 24.00 283.06)">k</text>
<text transform="matrix(0 -1.0576 1.0300 0 24.00 270.71)">,</text>
<text class="i" transform="matrix(0 -1.1244 1.0558 0 24.00 264.32)">m</text>
<text transform="matrix(0 -0.5660 0.7598 0 28.30 244.83)">K</text>
<text transform="matrix(0 -0.6541 0.7598 0 28.30 234.69)">Z</text>
<text class="i" transform="matrix(0 -1.2200 1.0095 0 24.00 225.40)">t</text>
<text transform="matrix(0 -1.1324 1.0593 0 23.60 215.42)">)</text>
<text transform="matrix(0 -1.2200 1.0500 0 24.00 206.73)">|</text>
<text transform="matrix(0 -1.1968 1.3047 0 27.40 201.04)">/</text>
<text class="i" transform="matrix(0 -1.1438 1.0558 0 23.60 192.33)">m</text>
<text transform="matrix(0 -0.7000 0.7110 0 28.30 172.66)">k</text>
<text transform="matrix(0 -0.8009 0.7299 0 28.30 164.06)">z</text>
<text class="b" transform="matrix(0 -0.8578 0.6600 0 13.70 154.77)">&#8722;</text>
<text transform="matrix(0 -0.8261 0.6589 0 13.30 142.98)">1</text>
<text transform="matrix(0 -0.8218 0.9317 0 15.90 133.04)">/</text>
<text transform="matrix(0 -0.7775 0.6570 0 13.30 127.26)">2</text>
</svg></body></html>
